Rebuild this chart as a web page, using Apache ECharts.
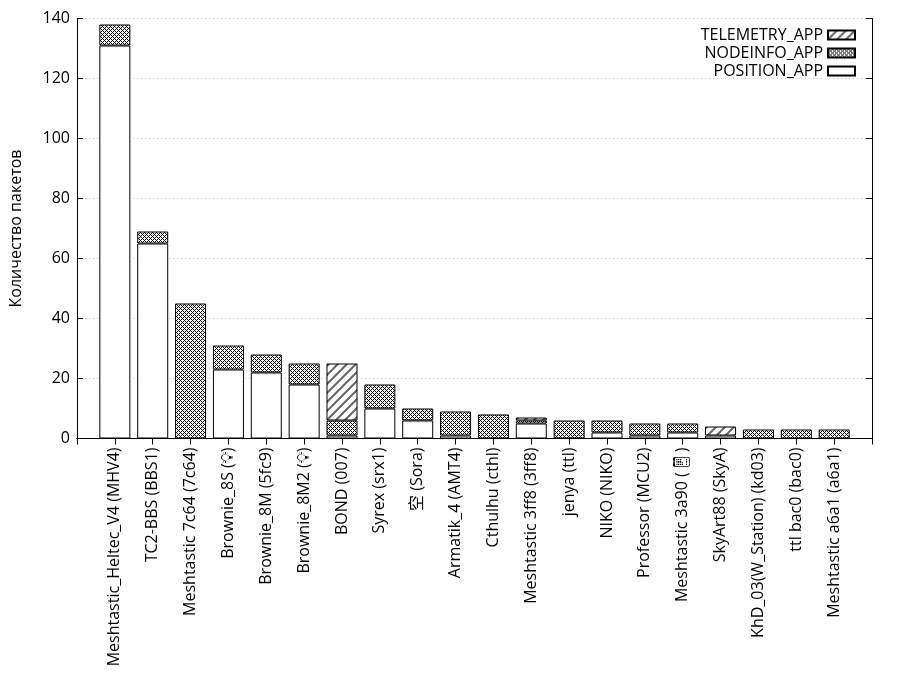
<!DOCTYPE html>
<html>
<head>
<meta charset="utf-8">
<script src="https://cdn.jsdelivr.net/npm/echarts@6/dist/echarts.min.js"></script>
<style>
  html, body { margin: 0; padding: 0; background: #fff; }
  #chart { width: 900px; height: 700px; }
</style>
</head>
<body>
<div id="chart"></div>
<script>
// узлы (ось X)
const names = [
  "Meshtastic_Heltec_V4 (MHV4)", "TC2-BBS (BBS1)", "Meshtastic 7c64 (7c64)",
  "Brownie_8S (💡\uFE0E)", "Brownie_8M (5fc9)", "Brownie_8M2 (💡\uFE0E)", "BOND (007)",
  "Syrex (srx1)", "空 (Sora)", "Armatik_4 (AMT4)", "Cthulhu (cthl)",
  "Meshtastic 3ff8 (3ff8)", "jenya (ttl)", "NIKO (NIKO)", "Professor (MCU2)",
  "Meshtastic 3a90 (📱\uFE0E)", "SkyArt88 (SkyA)", "KhD_03(W_Station) (kd03)",
  "ttl bac0 (bac0)", "Meshtastic a6a1 (a6a1)"
];
const positionApp = [131, 65, 0, 23, 22, 18, 1, 10, 6, 1, 0, 5, 0, 2, 1, 2, 1, 0, 0, 0];
const nodeinfoApp = [7, 4, 45, 8, 6, 7, 5, 8, 4, 8, 8, 1, 6, 4, 4, 3, 0, 3, 3, 3];
const telemetryApp = [0, 0, 0, 0, 0, 0, 19, 0, 0, 0, 0, 1, 0, 0, 0, 0, 3, 0, 0, 0];
const yTicks = [0, 20, 40, 60, 80, 100, 120, 140];

const FONT = "'Open Sans', 'Noto Sans CJK SC', sans-serif";
const FONT_SIZE = 16;

// паддинг по краям: диапазон оси [-1, 20], нули не рисуем
function pad(arr, v) {
  return [v].concat(arr.map((x) => (x === 0 ? v : x)), [v]);
}

// штриховка "сетка"
function crossPattern() {
  const c = document.createElement("canvas");
  c.width = 4;
  c.height = 4;
  const ctx = c.getContext("2d");
  ctx.fillStyle = "#fff";
  ctx.fillRect(0, 0, 4, 4);
  ctx.fillStyle = "#000";
  for (let x = 0; x < 4; x++) {
    for (let y = 0; y < 4; y++) {
      if ((x + y) % 4 === 0 || (x - y + 4) % 4 === 0) ctx.fillRect(x, y, 1, 1);
    }
  }
  return c;
}

// штриховка "/"
function slashPattern() {
  const s = 9;
  const c = document.createElement("canvas");
  c.width = s;
  c.height = s;
  const ctx = c.getContext("2d");
  ctx.fillStyle = "#fff";
  ctx.fillRect(0, 0, s, s);
  ctx.strokeStyle = "#666";
  ctx.lineWidth = 2;
  ctx.beginPath();
  ctx.moveTo(-1, s + 1);
  ctx.lineTo(s + 1, -1);
  ctx.moveTo(-1, 1);
  ctx.lineTo(1, -1);
  ctx.moveTo(s - 1, s + 1);
  ctx.lineTo(s + 1, s - 1);
  ctx.stroke();
  return c;
}

const cats = pad(names, "");
const tickLabelStyle = { fontFamily: FONT, fontSize: FONT_SIZE, color: "#000" };

let chart = echarts.init(document.getElementById("chart"));
let option = {
  backgroundColor: "#fff",
  animation: false,
  textStyle: { fontFamily: FONT },
  grid: { left: 77, right: 28, top: 18.5, bottom: 261.5 },
  legend: {
    orient: "vertical",
    right: 39,
    top: 22,
    align: "right",
    icon: "rect",
    itemWidth: 27,
    itemHeight: 9,
    itemGap: 2,
    selectedMode: false,
    textStyle: { fontFamily: FONT, fontSize: FONT_SIZE, color: "#000" },
    data: ["TELEMETRY_APP", "NODEINFO_APP", "POSITION_APP"],
  },
  xAxis: [
    {
      type: "category",
      data: cats,
      boundaryGap: false,
      axisLine: { lineStyle: { color: "#000", width: 1 } },
      axisTick: { inside: true, length: 6, interval: 0, lineStyle: { color: "#000" } },
      axisLabel: Object.assign({ rotate: 90, interval: 0, margin: 9 }, tickLabelStyle),
      splitLine: { show: false },
    },
    {
      type: "category",
      position: "top",
      data: cats,
      boundaryGap: false,
      axisLine: { lineStyle: { color: "#000", width: 1 } },
      axisTick: { inside: true, length: 6, interval: 0, lineStyle: { color: "#000" } },
      axisLabel: { show: false },
      splitLine: { show: false },
    },
  ],
  yAxis: [
    {
      type: "value",
      min: yTicks[0],
      max: yTicks[yTicks.length - 1],
      interval: 20,
      name: "Количество пакетов",
      nameLocation: "middle",
      nameRotate: 90,
      nameGap: 53,
      nameTextStyle: { fontFamily: FONT, fontSize: FONT_SIZE, color: "#000" },
      axisLine: { show: true, lineStyle: { color: "#000", width: 1 } },
      axisTick: { show: true, inside: true, length: 6, lineStyle: { color: "#000" } },
      axisLabel: Object.assign({ margin: 7 }, tickLabelStyle),
      splitLine: { show: true, lineStyle: { color: "#c8c8c8", type: [1, 3], width: 1 } },
    },
    {
      type: "value",
      position: "right",
      min: yTicks[0],
      max: yTicks[yTicks.length - 1],
      interval: 20,
      axisLine: { show: true, lineStyle: { color: "#000", width: 1 } },
      axisTick: { show: true, inside: true, length: 6, lineStyle: { color: "#000" } },
      axisLabel: { show: false },
      splitLine: { show: false },
    },
  ],
  series: [
    {
      name: "POSITION_APP",
      type: "bar",
      stack: "all",
      barWidth: 31,
      data: pad(positionApp, "-"),
      itemStyle: { color: "#fff", borderColor: "#000", borderWidth: 1 },
    },
    {
      name: "NODEINFO_APP",
      type: "bar",
      stack: "all",
      barWidth: 31,
      data: pad(nodeinfoApp, "-"),
      itemStyle: {
        color: { image: crossPattern(), repeat: "repeat" },
        borderColor: "#000",
        borderWidth: 1,
      },
    },
    {
      name: "TELEMETRY_APP",
      type: "bar",
      stack: "all",
      barWidth: 31,
      data: pad(telemetryApp, "-"),
      itemStyle: {
        color: { image: slashPattern(), repeat: "repeat" },
        borderColor: "#000",
        borderWidth: 1,
      },
    },
  ],
};
chart.setOption(option);
</script>
</body>
</html>
